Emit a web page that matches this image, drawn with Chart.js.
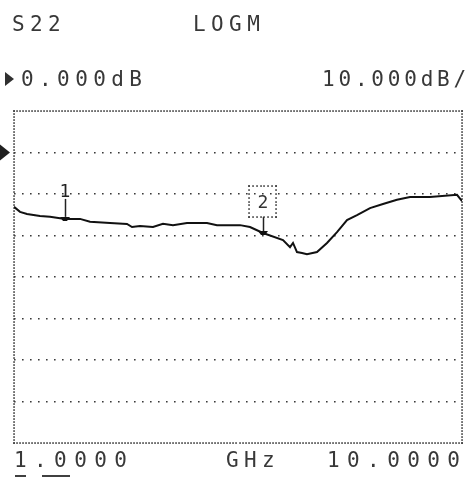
<!DOCTYPE html>
<html>
<head>
<meta charset="utf-8">
<script src="https://cdn.jsdelivr.net/npm/chart.js@4/dist/chart.umd.min.js"></script>
<style>
  html, body { margin: 0; padding: 0; background: #fff; }
  #wrap { position: relative; width: 465px; height: 479px; overflow: hidden; }
  #wrap canvas { position: absolute; left: 0; top: 0; }
  .t { position: absolute; font-family: "DejaVu Sans Mono", "Liberation Mono", monospace;
       font-size: 21px; line-height: 1; letter-spacing: 5.4px; color: #383838; white-space: pre; }
  .b { letter-spacing: 7.4px; }
  .n { letter-spacing: 3.8px; }
  .tri { position: absolute; width: 0; height: 0; border-top: 7px solid transparent;
         border-bottom: 7px solid transparent; border-left: 9px solid #303030; }
  .ul { position: absolute; height: 2px; background: #404040; }
</style>
</head>
<body>
<div id="wrap">
  <canvas id="c" width="465" height="479"></canvas>
  <div class="t" style="left:12px;top:14px">S22</div>
  <div class="t" style="left:193px;top:14px">LOGM</div>
  <div class="tri" style="left:5px;top:72px"></div>
  <div class="t" style="left:21px;top:69px">0.000dB</div>
  <div class="t n" style="left:322px;top:69px">10.000dB/</div>
  <div class="t b" style="left:14px;top:450px">1.0000</div>
  <div class="ul" style="left:15px;top:475px;width:11px"></div>
  <div class="ul" style="left:42px;top:475px;width:28px"></div>
  <div class="t" style="left:226px;top:450px">GHz</div>
  <div class="t b" style="left:327px;top:450px">10.0000</div>
</div>
<script>
// Swept S22 magnitude, 1 to 10 GHz
const freqGHz = [1.000, 1.121, 1.261, 1.522, 1.723, 2.025, 2.326, 2.527, 2.929, 3.270,
                 3.371, 3.531, 3.792, 3.993, 4.194, 4.475, 4.877, 5.078, 5.540, 5.741,
                 6.002, 6.404, 6.545, 6.605, 6.685, 6.786, 6.886, 7.087, 7.288, 7.489,
                 7.690, 7.891, 8.152, 8.413, 8.694, 8.955, 9.357, 9.900, 10.000];
const s22dB   = [-13.1, -14.3, -14.8, -15.3, -15.5, -16.0, -16.0, -16.7, -17.0, -17.2,
                 -17.95, -17.7, -17.95, -17.2, -17.5, -17.0, -17.0, -17.5, -17.5, -17.95,
                 -19.4, -21.1, -22.8, -21.8, -24.0, -24.2, -24.5, -24.0, -21.8, -19.2,
                 -16.3, -15.1, -13.4, -12.4, -11.4, -10.7, -10.7, -10.2, -11.7];

// Display settings: reference level and scale per division
const refLevelDB = 0;
const dbPerDiv = 10;
const yTopDB = 10;
const yBottomDB = -70;
const startGHz = 1;
const stopGHz = 10;

// Markers
const markerFreqs = [2.025, 6.002];
const markerNames = ['1', '2'];
const activeMarker = 1;

function traceAt(f) {
  for (let i = 1; i < freqGHz.length; i++) {
    if (f <= freqGHz[i]) {
      const t = (f - freqGHz[i - 1]) / (freqGHz[i] - freqGHz[i - 1]);
      return s22dB[i - 1] + t * (s22dB[i] - s22dB[i - 1]);
    }
  }
  return s22dB[s22dB.length - 1];
}

function dottedLine(ctx, x1, y1, x2, y2, gap) {
  const len = Math.hypot(x2 - x1, y2 - y1);
  const n = Math.floor(len / gap);
  for (let i = 0; i <= n; i++) {
    const x = x1 + (x2 - x1) * i / n, y = y1 + (y2 - y1) * i / n;
    ctx.fillRect(Math.round(x) - 0.75, Math.round(y) - 0.75, 1.6, 1.6);
  }
}

const screenDecor = {
  id: 'screenDecor',
  beforeDatasetsDraw(chart) {
    const { ctx, chartArea: a, scales: { y } } = chart;
    ctx.save();
    ctx.fillStyle = '#3a3a3a';
    // graticule frame, denser dots than the inner lines
    dottedLine(ctx, a.left, a.top, a.right, a.top, 3);
    dottedLine(ctx, a.left, a.bottom, a.right, a.bottom, 3);
    dottedLine(ctx, a.left, a.top, a.left, a.bottom, 3);
    dottedLine(ctx, a.right, a.top, a.right, a.bottom, 3);
    // reference-level pointer
    const yr = y.getPixelForValue(refLevelDB);
    ctx.fillStyle = '#202020';
    ctx.beginPath();
    ctx.moveTo(0, yr - 8);
    ctx.lineTo(10, yr);
    ctx.lineTo(0, yr + 8);
    ctx.closePath();
    ctx.fill();
    ctx.restore();
  },
  afterDatasetsDraw(chart) {
    const { ctx, scales: { x, y } } = chart;
    ctx.save();
    markerFreqs.forEach((f, i) => {
      const px = Math.round(x.getPixelForValue(f));
      const py = y.getPixelForValue(traceAt(f));
      // marker blob on the trace
      ctx.fillStyle = '#111';
      ctx.beginPath();
      ctx.moveTo(px - 5, py - 2);
      ctx.lineTo(px + 5, py - 2);
      ctx.lineTo(px + 2, py + 2);
      ctx.lineTo(px - 2, py + 2);
      ctx.closePath();
      ctx.fill();
      ctx.strokeStyle = '#222';
      ctx.lineWidth = 1.5;
      ctx.font = '18px "DejaVu Sans Mono", monospace';
      ctx.textAlign = 'center';
      ctx.textBaseline = 'alphabetic';
      if (i === activeMarker) {
        const boxBottom = py - 16;
        ctx.beginPath();
        ctx.moveTo(px + 0.5, py - 2);
        ctx.lineTo(px + 0.5, boxBottom);
        ctx.stroke();
        ctx.fillStyle = '#3a3a3a';
        dottedLine(ctx, px - 14, boxBottom - 31, px + 13, boxBottom - 31, 3.5);
        dottedLine(ctx, px - 14, boxBottom, px + 13, boxBottom, 3.5);
        dottedLine(ctx, px - 14, boxBottom - 31, px - 14, boxBottom, 3.5);
        dottedLine(ctx, px + 13, boxBottom - 31, px + 13, boxBottom, 3.5);
        ctx.fillStyle = '#333';
        ctx.fillText(markerNames[i], px, boxBottom - 9);
      } else {
        ctx.beginPath();
        ctx.moveTo(px + 0.5, py - 2);
        ctx.lineTo(px + 0.5, py - 20);
        ctx.stroke();
        ctx.fillStyle = '#222';
        ctx.fillText(markerNames[i], px, py - 22);
      }
    });
    ctx.restore();
  }
};

new Chart(document.getElementById('c'), {
  type: 'line',
  data: {
    datasets: [{
      label: 'S22',
      data: freqGHz.map((f, i) => ({ x: f, y: s22dB[i] })),
      borderColor: '#111',
      borderWidth: 2,
      pointRadius: 0,
      tension: 0,
      fill: false
    }]
  },
  options: {
    responsive: false,
    animation: false,
    devicePixelRatio: 1,
    layout: { padding: { left: 14, right: 3, top: 111, bottom: 36 } },
    plugins: { legend: { display: false }, tooltip: { enabled: false } },
    scales: {
      x: {
        type: 'linear', min: startGHz, max: stopGHz,
        ticks: { display: false },
        grid: { display: false, drawTicks: false },
        border: { display: false }
      },
      y: {
        type: 'linear', min: yBottomDB, max: yTopDB,
        ticks: { display: false, stepSize: dbPerDiv },
        grid: {
          drawTicks: false,
          lineWidth: 1.6,
          color: c => (c.tick && (c.tick.value === yTopDB || c.tick.value === yBottomDB)) ? 'rgba(0,0,0,0)' : '#3a3a3a'
        },
        border: { display: false, dash: [1.6, 6.4] }
      }
    }
  },
  plugins: [screenDecor]
});
</script>
</body>
</html>
